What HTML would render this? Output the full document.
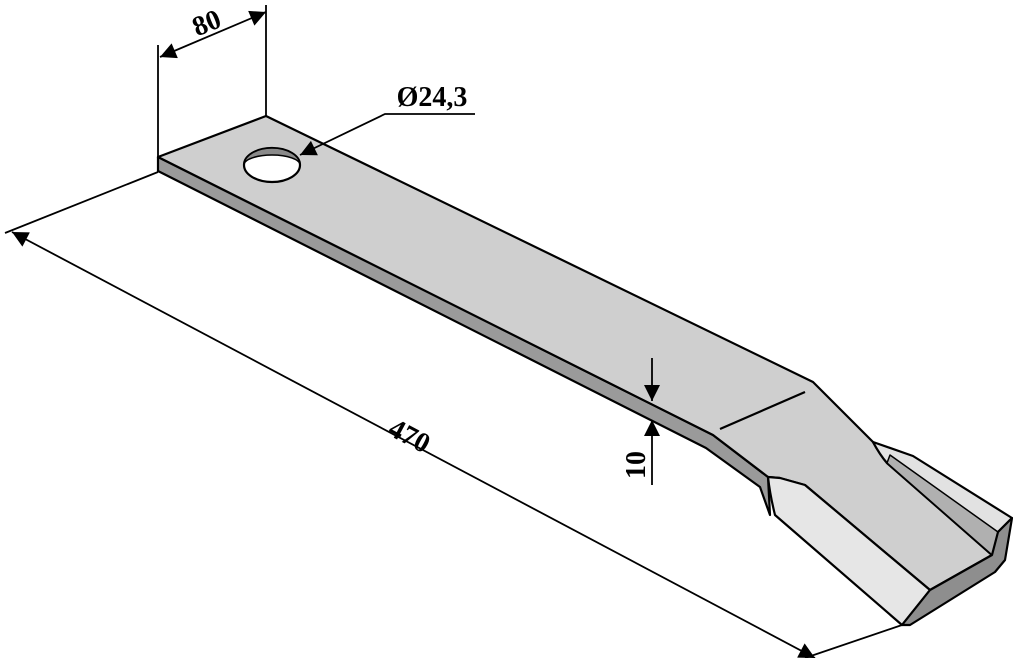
<!DOCTYPE html>
<html><head><style>html,body{margin:0;padding:0;background:#fff}svg{display:block}</style></head>
<body>
<svg width="1013" height="658" viewBox="0 0 1013 658" xmlns="http://www.w3.org/2000/svg" font-family="Liberation Serif, serif" font-weight="bold">
<defs>
<marker id="a" viewBox="0 0 10 10" refX="10" refY="5" markerWidth="26" markerHeight="16" markerUnits="userSpaceOnUse" orient="auto-start-reverse"><path d="M0,0L10,5L0,10z" fill="#000"/></marker>
</defs>
<g stroke="#000" stroke-width="2.2" stroke-linejoin="round">
<path d="M158,157 L713,435 L768,477 L770,515 L760,487 L706,448 L158,171 Z" fill="#9a9a9a"/>
<path d="M158,157 L266,116 L813,382 L873,442 Q880,455 887,463 L992,555 L930,590 L805,485 L780,478 L768,477 L713,435 Z" fill="#cfcfcf"/>
<path d="M873,442 L913,456 L1012,518 L998,532 L992,555 L887,463 Q880,455 873,442 Z" fill="#e2e2e2"/>
<path d="M887,463 L992,555 L998,532 L890,455 Z" fill="#b0b0b0" stroke-width="1.5"/>
<path d="M768,477 L780,478 L805,485 L930,590 L902,625 L775,515 Q770,495 768,477 Z" fill="#e6e6e6"/>
<path d="M902,625 L930,590 L992,555 L998,532 L1012,518 L1005,560 L995,572 L910,625 Z" fill="#8e8e8e"/>
<path d="M720,429 L805,392" fill="none"/>
<ellipse cx="272" cy="165" rx="28" ry="17" fill="#fff"/>
<path d="M244,165 A28,17 0 0 1 300,165 A28,10 0 0 0 244,165Z" fill="#8a8a8a" stroke-width="1.5"/>
</g>
<g stroke="#000" stroke-width="1.8" fill="none">
<path d="M158,157 L158,45"/><path d="M266,116 L266,5"/>
<path d="M160,57 L266,12" marker-start="url(#a)" marker-end="url(#a)"/>
<path d="M300,155 L385,114 L475,114" marker-start="url(#a)"/>
<path d="M158,172 L5,233"/>
<path d="M902,625 L805,658"/>
<path d="M12,232 L815,658" marker-start="url(#a)" marker-end="url(#a)"/>
<path d="M652,358 L652,401" marker-end="url(#a)"/>
<path d="M652,485 L652,420" marker-end="url(#a)"/>
</g>
<text x="207" y="32" font-size="28" text-anchor="middle" transform="rotate(-22 207 24)">80</text>
<text x="432" y="106" font-size="28" text-anchor="middle">Ø24,3</text>
<text x="410" y="445" font-size="28" text-anchor="middle" transform="rotate(28 410 435)">470</text>
<text x="643" y="467" font-size="28" text-anchor="middle" transform="rotate(-90 643 465)">10</text>
</svg>
</body></html>
